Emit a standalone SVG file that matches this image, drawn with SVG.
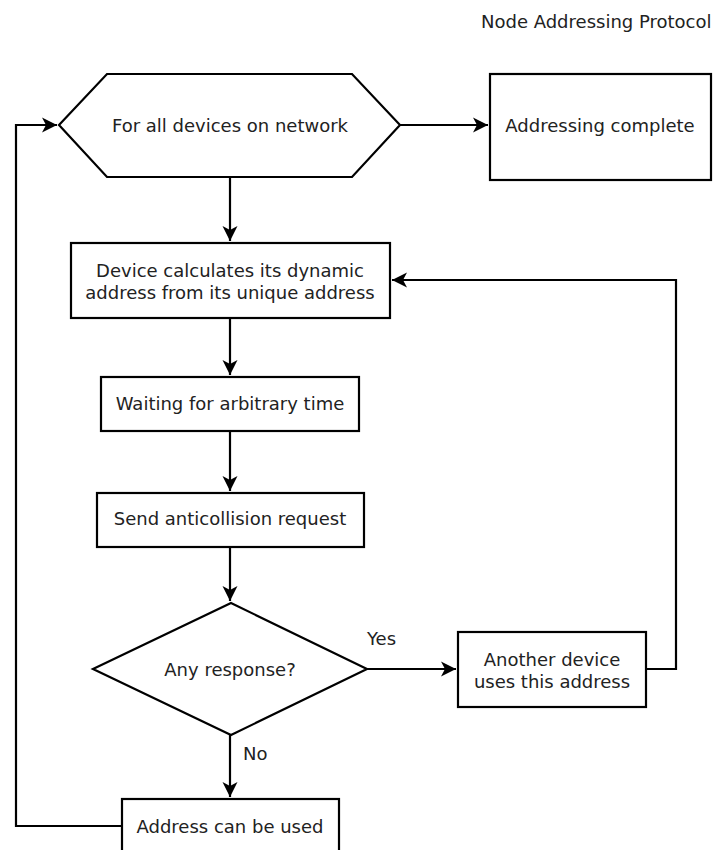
<svg xmlns="http://www.w3.org/2000/svg" width="713" height="850" viewBox="0 0 713 850">
<style>
.n{fill:#fff;stroke:#000;stroke-width:2.2}
.c{fill:none;stroke:#000;stroke-width:2.2}
text{font-family:"DejaVu Sans",sans-serif;font-size:18px;fill:#222}
.m{text-anchor:middle}
</style>
<defs>
<marker id="ah" markerUnits="userSpaceOnUse" markerWidth="18" markerHeight="18" viewBox="-16 -9 18 18" refX="0" refY="0" orient="auto">
<path d="M0,0 L-15,-7.5 L-11,0 L-15,7.5 Z" fill="#000"/>
</marker>
</defs>
<rect width="713" height="850" fill="#fff"/>
<text x="481" y="28">Node Addressing Protocol</text>
<g id="connectors">
<path class="c" d="M400,125 H488" marker-end="url(#ah)"/>
<path class="c" d="M230,177 V241" marker-end="url(#ah)"/>
<path class="c" d="M230,318 V375" marker-end="url(#ah)"/>
<path class="c" d="M230,431 V491" marker-end="url(#ah)"/>
<path class="c" d="M230,547 V601" marker-end="url(#ah)"/>
<path class="c" d="M367,669 H456" marker-end="url(#ah)"/>
<path class="c" d="M646,669 H676 V280 H392" marker-end="url(#ah)"/>
<path class="c" d="M230,735 V797" marker-end="url(#ah)"/>
<path class="c" d="M122,826 H16 V125 H57" marker-end="url(#ah)"/>
<text x="367" y="645">Yes</text>
<text x="243" y="760">No</text>
</g>
<g id="loop">
<polygon class="n" points="59,125 107,74 352,74 400,125 352,177 107,177"/>
<text class="m" x="230" y="132">For all devices on network</text>
</g>
<g id="complete">
<rect class="n" x="490" y="74" width="221" height="106"/>
<text class="m" x="600" y="132">Addressing complete</text>
</g>
<g id="calc">
<rect class="n" x="71" y="243" width="319" height="75"/>
<text class="m" x="230" y="277">Device calculates its dynamic</text>
<text class="m" x="230" y="299">address from its unique address</text>
</g>
<g id="wait">
<rect class="n" x="101" y="377" width="258" height="54"/>
<text class="m" x="230" y="410">Waiting for arbitrary time</text>
</g>
<g id="send">
<rect class="n" x="97" y="493" width="267" height="54"/>
<text class="m" x="230" y="525">Send anticollision request</text>
</g>
<g id="decision">
<polygon class="n" points="231,603 367,669 231,735 93,669"/>
<text class="m" x="230" y="676">Any response?</text>
</g>
<g id="another">
<rect class="n" x="458" y="632" width="188" height="75"/>
<text class="m" x="552" y="666">Another device</text>
<text class="m" x="552" y="688">uses this address</text>
</g>
<g id="used">
<rect class="n" x="122" y="799" width="217" height="60"/>
<text class="m" x="230" y="833">Address can be used</text>
</g>
</svg>
